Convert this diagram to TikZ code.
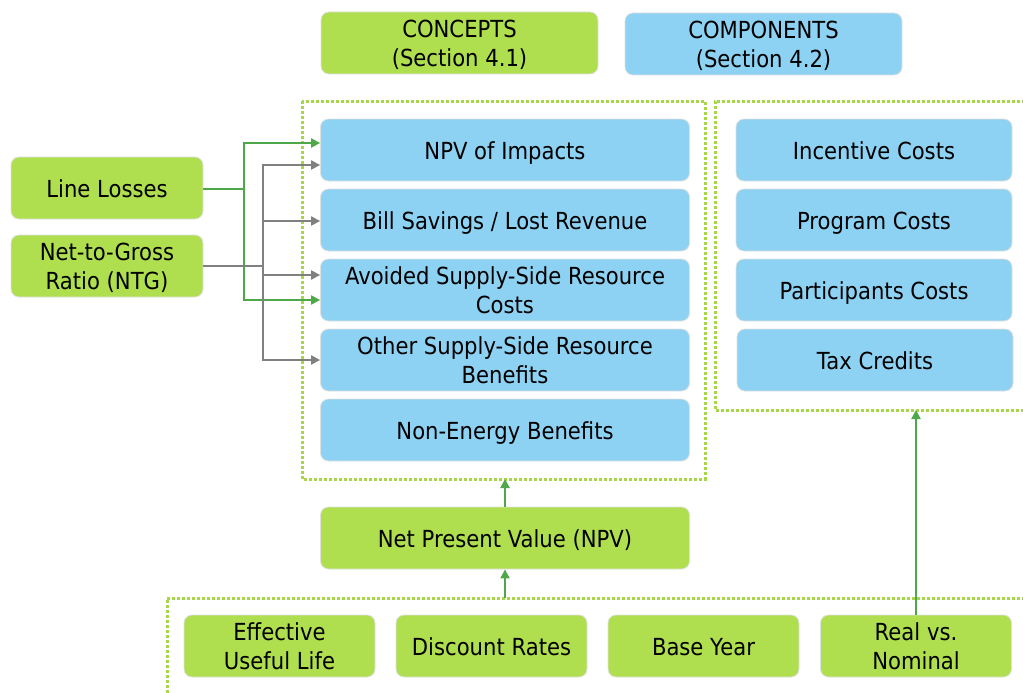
\documentclass[tikz,border=0pt]{standalone}
\usepackage{fontspec}
\setmainfont[FakeStretch=0.9]{DejaVu Sans}
\usetikzlibrary{arrows.meta}
\definecolor{gfill}{HTML}{AFDF4F}
\definecolor{bfill}{HTML}{8ED2F3}
\definecolor{frame}{HTML}{A8D64A}
\definecolor{garrow}{HTML}{4EA849}
\definecolor{gray}{HTML}{808080}
\newcommand{\mystrut}{\rule{0pt}{25pt}}
\tikzset{
  box/.style={rounded corners=8pt, draw=black!12, line width=0.8pt, align=center,
    font=\fontsize{23.5}{29}\selectfont, text=black, inner sep=0pt,
    execute at begin node={\mystrut},
    execute at end node={\rule[-7pt]{0pt}{7pt}}},
  gbox/.style={box, fill=gfill},
  bbox/.style={box, fill=bfill},
  frm/.style={draw=frame, line width=3pt, dash pattern=on 3pt off 2pt},
  garr/.style={draw=garrow, line width=2pt, -{Triangle[length=9pt,width=9pt]}},
  grarr/.style={draw=gray, line width=2pt, -{Triangle[length=9pt,width=9pt]}},
  gline/.style={draw=garrow, line width=2pt},
  grline/.style={draw=gray, line width=2pt}
}
\begin{document}
\begin{tikzpicture}[x=1pt,y=-1pt]
\useasboundingbox (0,0) rectangle (1023,693);
% frames
\draw[frm] (302,101) rectangle (705,479);
\draw[frm] (1030,101) -- (715,101) -- (715,410) -- (1030,410);
\draw[frm] (1030,598) -- (167,598) -- (167,700);
% header
\node[gbox, minimum width=277pt, minimum height=62pt] (concepts) at (459.5,43) {\mystrut CONCEPTS\\(Section 4.1)};
\node[bbox, minimum width=277pt, minimum height=62pt] (components) at (763.5,44) {\mystrut COMPONENTS\\(Section 4.2)};
% left column
\node[bbox, minimum width=369pt, minimum height=62pt] (npvi) at (505,150) {NPV of Impacts};
\node[bbox, minimum width=369pt, minimum height=62pt] (bill) at (505,220) {Bill Savings / Lost Revenue};
\node[bbox, minimum width=369pt, minimum height=62pt] (avoid) at (505,290) {\mystrut Avoided Supply-Side Resource\\Costs};
\node[bbox, minimum width=369pt, minimum height=62pt] (other) at (505,360) {\mystrut Other Supply-Side Resource\\Benefits};
\node[bbox, minimum width=369pt, minimum height=62pt] (nonen) at (505,430) {Non-Energy Benefits};
% right column
\node[bbox, minimum width=276pt, minimum height=62pt] (inc) at (874,150) {Incentive Costs};
\node[bbox, minimum width=276pt, minimum height=62pt] (prog) at (874,220) {Program Costs};
\node[bbox, minimum width=276pt, minimum height=62pt] (part) at (874,290) {Participants Costs};
\node[bbox, minimum width=276pt, minimum height=62pt] (tax) at (875,360) {Tax Credits};
% left inputs
\node[gbox, minimum width=192pt, minimum height=62pt] (ll) at (107,188) {Line Losses};
\node[gbox, minimum width=192pt, minimum height=62pt] (ntg) at (107,266) {\mystrut Net-to-Gross\\Ratio (NTG)};
% NPV
\node[gbox, minimum width=369pt, minimum height=62pt] (npv) at (505,538) {Net Present Value (NPV)};
% bottom
\node[gbox, minimum width=191pt, minimum height=62pt] (eul) at (279.5,646) {\mystrut Effective\\Useful Life};
\node[gbox, minimum width=191pt, minimum height=62pt] (disc) at (491.5,646) {Discount Rates};
\node[gbox, minimum width=191pt, minimum height=62pt] (base) at (703.5,646) {Base Year};
\node[gbox, minimum width=191pt, minimum height=62pt] (real) at (916,646) {\mystrut Real vs.\\Nominal};
% frame anchor points
\coordinate (f1b) at (505,479);
\coordinate (f2b) at (916,410);
\coordinate (f3t) at (505,598);
% green connectors from Line Losses
\coordinate (gj) at (244,189);
\draw[gline] (ll.east |- gj) -- (gj);
\draw[garr] (gj) -- (244,143) -- (npvi.west |- 0,143);
\draw[garr] (gj) -- (244,300) -- (avoid.west |- 0,300);
% gray connectors from NTG
\coordinate (gr) at (263,266);
\draw[grline] (ntg.east) -- (gr);
\draw[grarr] (gr) -- (263,165) -- (npvi.west |- 0,165);
\draw[grarr] (263,221) -- (bill.west |- 0,221);
\draw[grarr] (263,275) -- (avoid.west |- 0,275);
\draw[grarr] (gr) -- (263,360) -- (other.west |- 0,360);
% vertical arrows
\draw[garr] (npv.north) -- (f1b);
\draw[garr] (f3t) -- (npv.south);
\draw[garr] (real.north) -- (f2b);
\end{tikzpicture}
\end{document}
